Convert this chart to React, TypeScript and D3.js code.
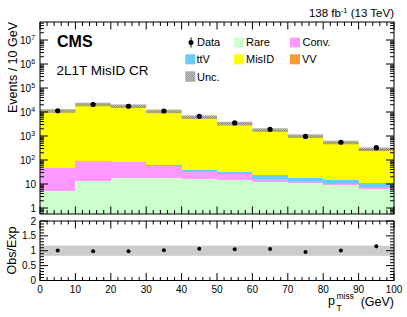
import React from 'react';
import * as d3 from 'd3';

// bins of pTmiss (GeV)
const binLow = [0, 10, 20, 30, 40, 50, 60, 70, 80, 90];
const binWidth = 10;

// expected yields per bin, stacked bottom -> top
const rare = [5.3, 13.4, 18.3, 17.3, 16, 14.7, 12.5, 11.3, 9.1, 6.2];
const conv = [41.7, 74.6, 61.7, 40.7, 17, 11.3, 3.1, 2, 0.9, 1.1];
const ttv = [0.5, 1, 1.5, 5, 5, 6.5, 8, 5, 4.7, 4];
const misid = [11150, 20800, 17600, 10735, 6160, 3295, 1764, 980, 528, 262];
const vv = [2, 3, 3, 2, 2, 2, 2, 2, 2, 10];

// observed
const obs = [11300, 20500, 17400, 11000, 6600, 3500, 1900, 960, 550, 325];
// relative total uncertainty
const relUnc = [0.17, 0.17, 0.17, 0.17, 0.17, 0.17, 0.17, 0.17, 0.17, 0.17];

const xTickVals = [0, 10, 20, 30, 40, 50, 60, 70, 80, 90, 100];
const decades = [0, 1, 2, 3, 4, 5, 6, 7];
const ratioTickVals = [0, 0.5, 1, 1.5, 2];

const procs = [
  { key: 'rare', vals: rare, color: '#ccffcc' },
  { key: 'conv', vals: conv, color: '#ff99ff' },
  { key: 'ttv', vals: ttv, color: '#66ccff' },
  { key: 'misid', vals: misid, color: '#ffff00' },
  { key: 'vv', vals: vv, color: '#ff9933' },
];

const FONT = '"Liberation Sans", Arial, Helvetica, sans-serif';

const App: React.FC = () => {
  const left = 40;
  const right = 394;
  const top = 22;
  const mainBottom = 214;
  const ratioTop = 221;
  const ratioBottom = 280.5;

  const x = d3.scaleLinear().domain([0, 100]).range([left, right]);
  const y = d3
    .scaleLog()
    .domain([Math.pow(10, -0.25), Math.pow(10, 7.75)])
    .range([mainBottom, top])
    .clamp(true);
  const yr = d3.scaleLinear().domain([0, 2]).range([ratioBottom, ratioTop]);

  const rows = binLow.map((b, i) => {
    const r: Record<string, number> = { b };
    procs.forEach((p) => (r[p.key] = p.vals[i]));
    return r;
  });
  const stack = d3.stack<any>().keys(procs.map((p) => p.key));
  const layers = stack(rows);
  const totals = binLow.map((_, i) => d3.sum(procs, (p) => p.vals[i]));

  const uncBoxes = (lowF: (i: number) => number, highF: (i: number) => number, sc: any) =>
    binLow.map((b, i) => ({ x0: x(b), x1: x(b + binWidth), y0: sc(lowF(i)), y1: sc(highF(i)) }));

  const mainUnc = uncBoxes(
    (i) => totals[i] * (1 - relUnc[i]),
    (i) => totals[i] * (1 + relUnc[i]),
    y
  );
  const ratioUnc = uncBoxes(
    (i) => 1 - relUnc[i],
    (i) => 1 + relUnc[i],
    yr
  );

  // x ticks
  const xMinor: number[] = [];
  for (let v = 0; v <= 100; v += 2) if (v % 10 !== 0) xMinor.push(v);

  const xTicks = (y0: number, y1: number, maj: number, min: number) => (
    <g stroke="#000" strokeWidth={1}>
      {xTickVals.map((v) => (
        <g key={'M' + v}>
          <line x1={x(v)} x2={x(v)} y1={y1} y2={y1 - maj} />
          <line x1={x(v)} x2={x(v)} y1={y0} y2={y0 + maj} />
        </g>
      ))}
      {xMinor.map((v) => (
        <g key={'m' + v}>
          <line x1={x(v)} x2={x(v)} y1={y1} y2={y1 - min} />
          <line x1={x(v)} x2={x(v)} y1={y0} y2={y0 + min} />
        </g>
      ))}
    </g>
  );

  // log y ticks
  const yMinor: number[] = [];
  [-1, 0, 1, 2, 3, 4, 5, 6, 7].forEach((d) => {
    for (let k = 2; k <= 9; k++) {
      const v = k * Math.pow(10, d);
      if (v > y.domain()[0] && v < y.domain()[1]) yMinor.push(v);
    }
  });

  const ratioMinor: number[] = [];
  for (let k = 1; k < 20; k++) if (k % 5 !== 0) ratioMinor.push(k / 10);

  const yTickLines = (vals: number[], sc: any, len: number, pre: string) =>
    vals.map((v) => (
      <g key={pre + v}>
        <line x1={left} x2={left + len} y1={sc(v)} y2={sc(v)} />
        <line x1={right} x2={right - len} y1={sc(v)} y2={sc(v)} />
      </g>
    ));

  return (
    <svg
      width={407}
      height={317}
      style={{ position: 'absolute', left: 0, top: 0, background: '#fff' }}
      fontFamily={FONT}
    >
      <defs>
        <pattern id="unc" width={2} height={2} patternUnits="userSpaceOnUse">
          <rect x={0} y={0} width={2} height={2} fill="#8c8c8c" opacity={0.55} />
          <rect x={0} y={0} width={1} height={1} fill="#6e6e6e" opacity={0.5} />
          <rect x={1} y={1} width={1} height={1} fill="#6e6e6e" opacity={0.5} />
        </pattern>
      </defs>
      <rect width={407} height={317} fill="#fff" />

      {/* stacked backgrounds */}
      {layers.map((layer, li) => (
        <g key={layer.key}>
          {layer.map((d, i) => {
            const yt = y(d[1]);
            const yb = d[0] > 0 ? y(d[0]) : mainBottom;
            return (
              <rect
                key={i}
                x={x(binLow[i])}
                width={x(binLow[i] + binWidth) - x(binLow[i])}
                y={yt}
                height={Math.max(0, yb - yt)}
                fill={procs[li].color}
                shapeRendering="crispEdges"
              />
            );
          })}
        </g>
      ))}

      {/* uncertainty band */}
      {mainUnc.map((u, i) => (
        <rect key={i} x={u.x0} width={u.x1 - u.x0} y={u.y1} height={u.y0 - u.y1} fill="url(#unc)" />
      ))}

      {/* data */}
      <g>
        {obs.map((v, i) => {
          const cx = x(binLow[i] + binWidth / 2);
          const e = Math.sqrt(v);
          return (
            <g key={i}>
              <line x1={cx} x2={cx} y1={y(v + e)} y2={y(v - e)} stroke="#000" />
              <circle cx={cx} cy={y(v)} r={2.6} fill="#000" />
            </g>
          );
        })}
      </g>

      {/* main frame and ticks */}
      <rect x={left} y={top} width={right - left} height={mainBottom - top} fill="none" stroke="#000" />
      {xTicks(top, mainBottom, 7.5, 4)}
      <g stroke="#000">
        {yTickLines(decades.map((d) => Math.pow(10, d)), y, 8, 'D')}
        {yTickLines(yMinor, y, 4, 'd')}
      </g>
      <g fontSize={10} fill="#000">
        {decades.map((d) =>
          d < 2 ? (
            <text key={d} x={36} y={y(Math.pow(10, d)) + 3.5} textAnchor="end">
              {Math.pow(10, d)}
            </text>
          ) : (
            <g key={d}>
              <text x={31} y={y(Math.pow(10, d)) + 3.5} textAnchor="end">
                10
              </text>
              <text x={31.3} y={y(Math.pow(10, d)) - 0.5} fontSize={7}>
                {d}
              </text>
            </g>
          )
        )}
      </g>

      {/* ratio panel */}
      {ratioUnc.map((u, i) => (
        <rect
          key={i}
          x={u.x0}
          width={u.x1 - u.x0 + 0.5}
          y={u.y1}
          height={u.y0 - u.y1}
          fill="#cccccc"
        />
      ))}
      {obs.map((v, i) => {
        const cx = x(binLow[i] + binWidth / 2);
        const r = v / totals[i];
        const e = Math.sqrt(v) / totals[i];
        return (
          <g key={i}>
            <line x1={cx} x2={cx} y1={yr(r + e)} y2={yr(r - e)} stroke="#000" />
            <circle cx={cx} cy={yr(r)} r={2} fill="#000" />
          </g>
        );
      })}
      <rect x={left} y={ratioTop} width={right - left} height={ratioBottom - ratioTop} fill="none" stroke="#000" />
      {xTicks(ratioTop, ratioBottom, 7.5, 3.5)}
      <g stroke="#000">
        {yTickLines(ratioTickVals, yr, 8, 'R')}
        {yTickLines(ratioMinor, yr, 4, 'r')}
      </g>
      <g fontSize={10} fill="#000" textAnchor="end">
        {ratioTickVals.map((v) => (
          <text key={v} x={36} y={yr(v) + 3.5}>
            {v}
          </text>
        ))}
      </g>
      <g fontSize={10} fill="#000" textAnchor="middle">
        {xTickVals.map((v) => (
          <text key={v} x={x(v)} y={293}>
            {v}
          </text>
        ))}
      </g>

      {/* axis titles */}
      <text transform="translate(16.5,22) rotate(-90)" textAnchor="end" fontSize={12.5}>
        Events / 10 GeV
      </text>
      <text transform="translate(16,250.5) rotate(-90)" textAnchor="middle" fontSize={12.5}>
        Obs/Exp
      </text>
      <g fontSize={12.5}>
        <text x={328} y={305}>p</text>
        <text x={336.5} y={298.5} fontSize={8.5}>miss</text>
        <text x={336.5} y={311} fontSize={8.5}>T</text>
        <text x={394} y={305.5} textAnchor="end">(GeV)</text>
      </g>

      {/* header */}
      <text x={394} y={16.5} textAnchor="end" fontSize={11.5}>
        138 fb<tspan dy={-4} fontSize={7.5}>-1</tspan>
        <tspan dy={4}> (13 TeV)</tspan>
      </text>
      <text x={57} y={46.5} fontSize={16} fontWeight="bold">
        CMS
      </text>
      <text x={56.5} y={75} fontSize={13.5}>
        2L1T MisID CR
      </text>

      {/* legend */}
      <g fontSize={11}>
        <line x1={191} x2={191} y1={37.5} y2={47.5} stroke="#000" />
        <circle cx={191} cy={42.5} r={2.5} fill="#000" />
        <text x={197} y={45.8}>Data</text>
        <rect x={234} y={37.7} width={10} height={9.6} fill="#ccffcc" />
        <text x={246} y={45.8}>Rare</text>
        <rect x={290} y={37.7} width={10} height={9.6} fill="#ff99ff" />
        <text x={302.5} y={45.8}>Conv.</text>

        <rect x={185.3} y={54.3} width={10} height={10} fill="#66ccff" />
        <text x={196.5} y={63.3}>ttV</text>
        <rect x={234} y={54.3} width={10} height={10} fill="#ffff00" />
        <text x={246} y={63.3}>MisID</text>
        <rect x={290} y={54.3} width={10} height={10} fill="#ff9933" />
        <text x={302} y={63.3}>VV</text>

        <rect x={185.3} y={71.3} width={10} height={10.5} fill="url(#unc)" />
        <text x={197} y={81}>Unc.</text>
      </g>
    </svg>
  );
};

export default App;
